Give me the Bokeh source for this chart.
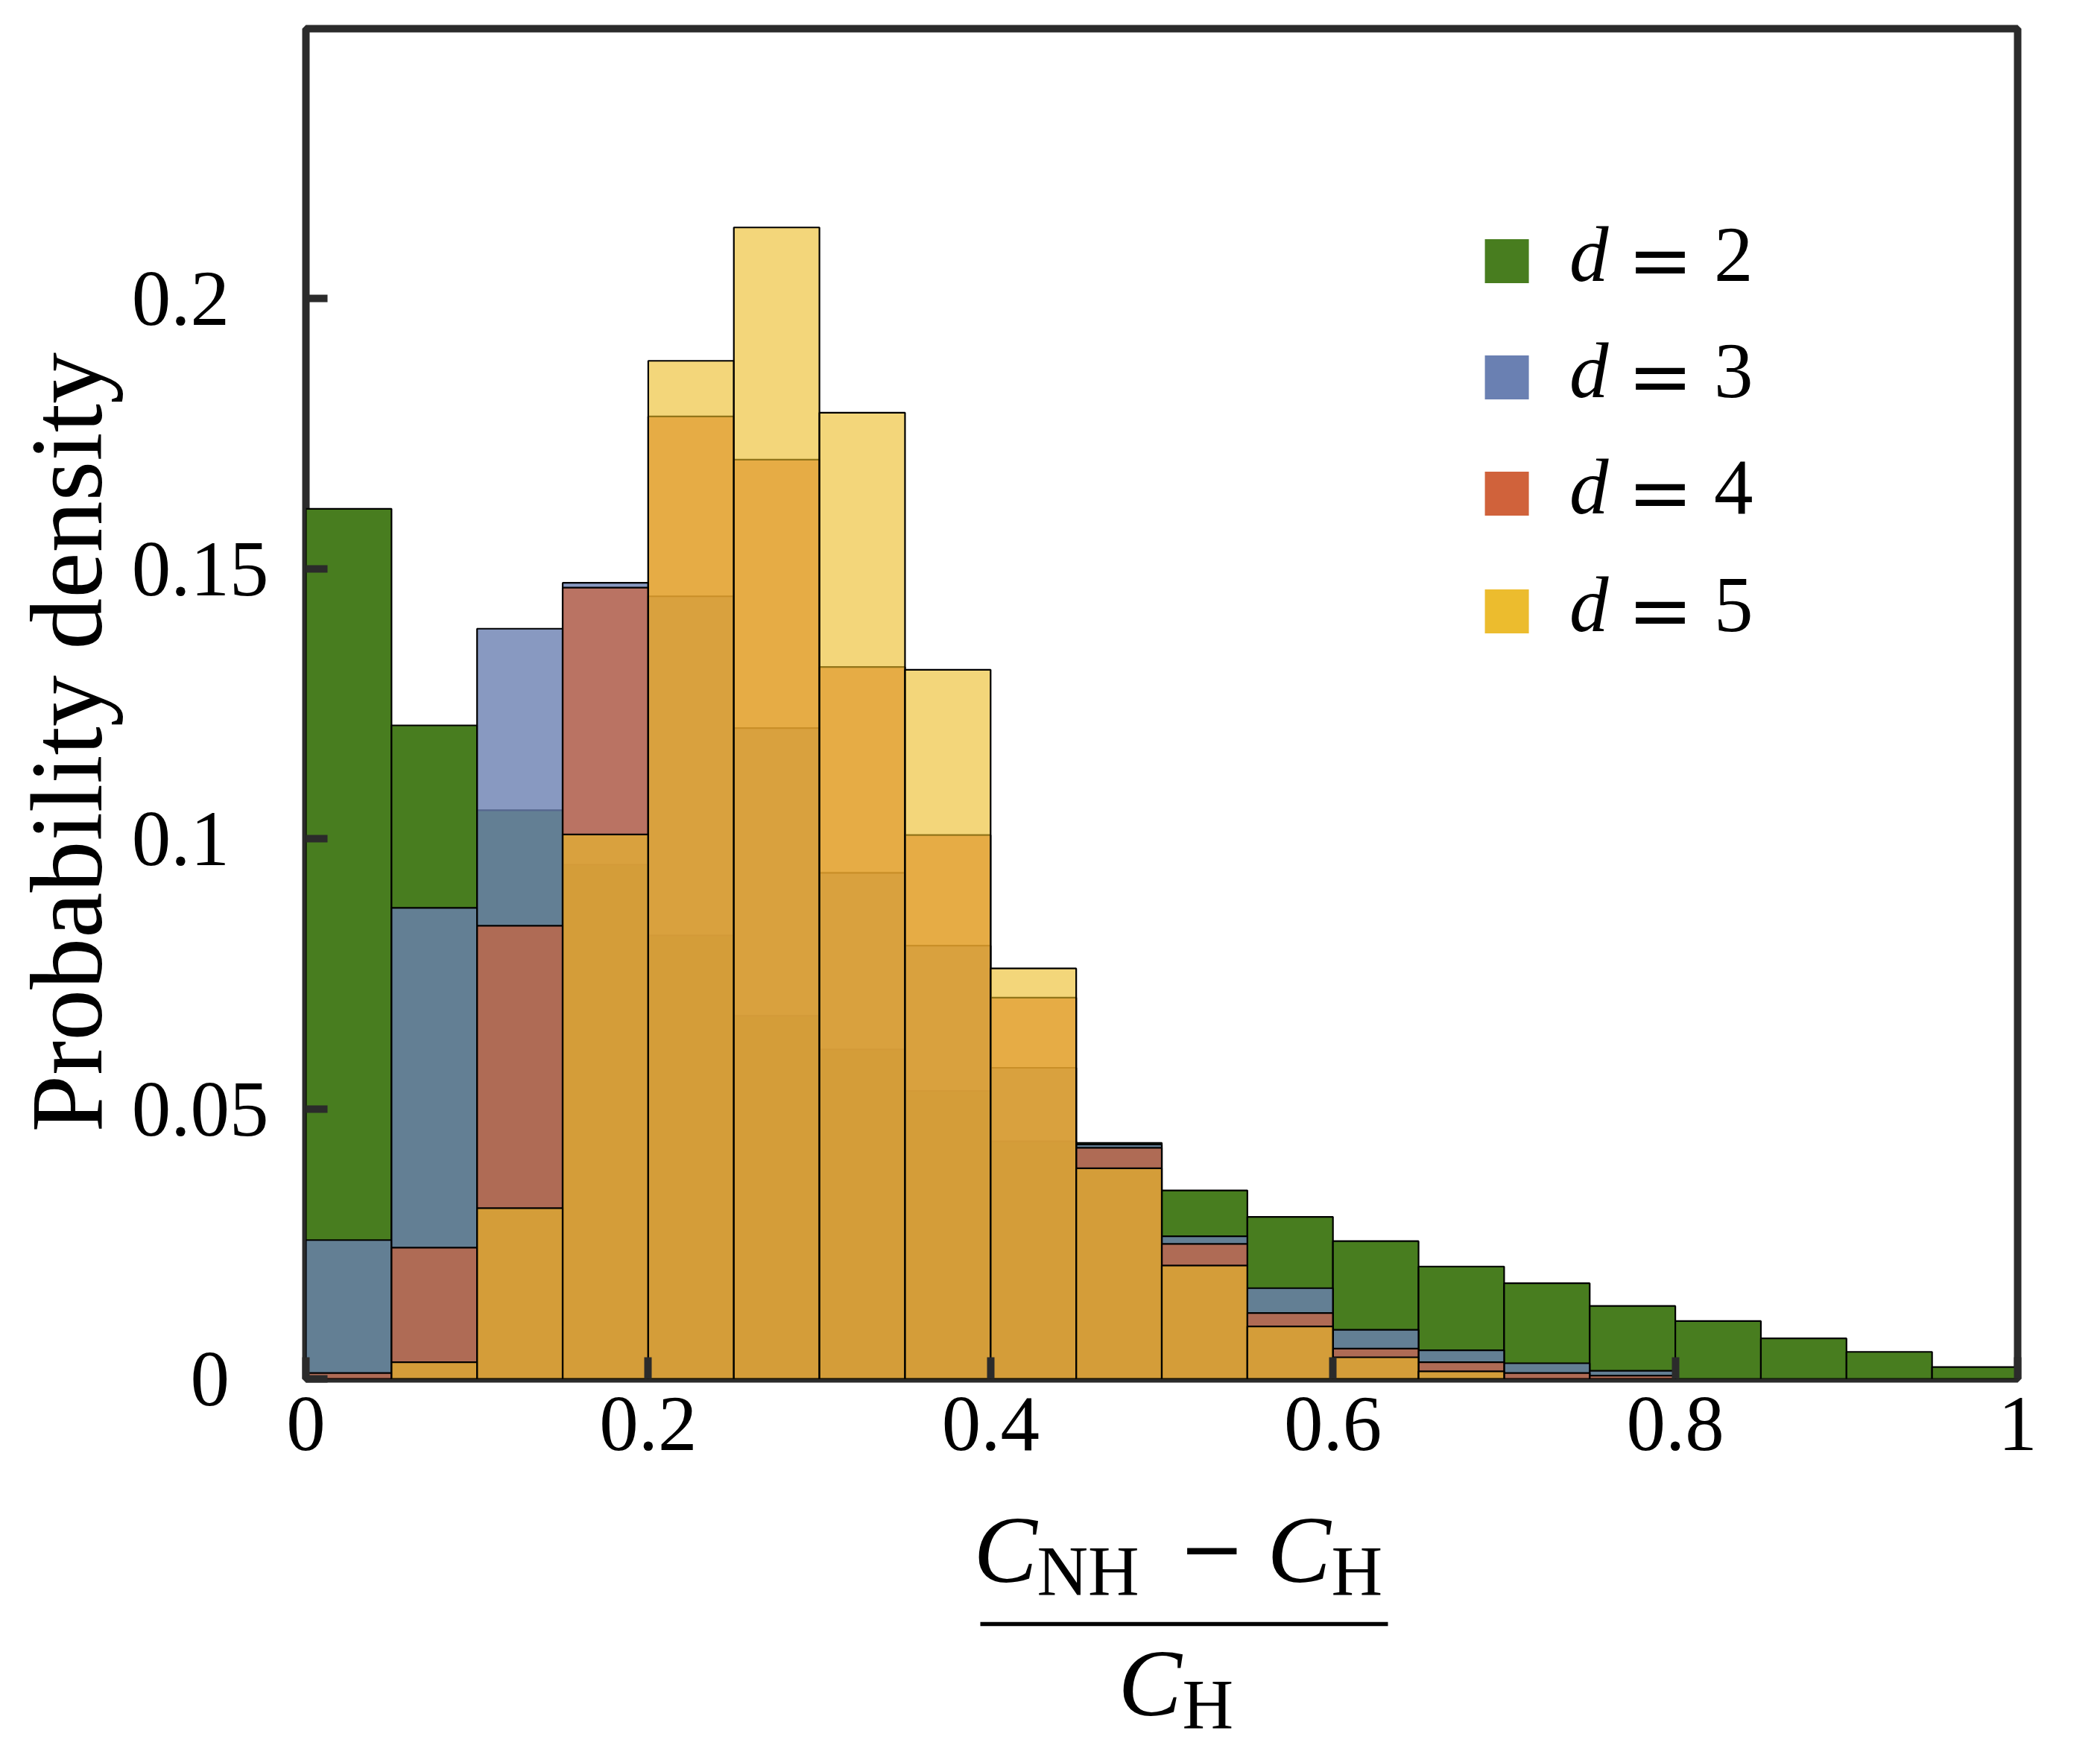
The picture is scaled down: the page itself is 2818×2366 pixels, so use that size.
import numpy as np
from bokeh.plotting import figure
from bokeh.models import ColumnDataSource, FixedTicker, Label, Range1d
from bokeh.layouts import column
from bokeh.core.properties import value
from bokeh.embed import file_html
from bokeh.resources import INLINE

# ---------------- data ----------------
BIN_EDGES = [round(0.05 * i, 2) for i in range(21)]

D2 = [0.1611, 0.1210, 0.1053, 0.0952, 0.0821, 0.0672, 0.0610, 0.0533, 0.0440, 0.0437,
      0.0349, 0.0300, 0.0255, 0.0208, 0.0177, 0.0135, 0.0107, 0.0075, 0.0050, 0.0022]
D3 = [0.0257, 0.0872, 0.1389, 0.1474, 0.1449, 0.1205, 0.0937, 0.0802, 0.0576, 0.0434,
      0.0264, 0.0168, 0.0091, 0.0053, 0.0029, 0.0015, 0.0, 0.0, 0.0, 0.0]
D4 = [0.0011, 0.0243, 0.0839, 0.1465, 0.1782, 0.1702, 0.1318, 0.1007, 0.0706, 0.0428,
      0.0250, 0.0122, 0.0056, 0.0031, 0.0011, 0.0006, 0.0, 0.0, 0.0, 0.0]
D5 = [0.0, 0.0031, 0.0316, 0.1008, 0.1885, 0.2132, 0.1789, 0.1313, 0.0760, 0.0390,
      0.0210, 0.0097, 0.0040, 0.0014, 0.0, 0.0, 0.0, 0.0, 0.0, 0.0]

SERIES = [D2, D3, D4, D5]
SERIES_NAMES = ["2", "3", "4", "5"]

X_TICKS = [0, 0.2, 0.4, 0.6, 0.8, 1]
X_TICK_LABELS = ["0", "0.2", "0.4", "0.6", "0.8", "1"]
Y_TICKS = [0, 0.05, 0.1, 0.15, 0.2]
Y_TICK_LABELS = ["0\u2007", "0.05", "0.1\u2007", "0.15", "0.2\u2007"]

Y_LABEL = "Probability density"

# ---------------- styles ----------------
BAR_COLORS = ["#487d1f", "#6a80b2", "#d0623b", "#ecbd28"]
BAR_ALPHAS = [1.0, 0.8, 0.7, 0.62]
LEGEND_COLORS = ["#487d1f", "#6a80b2", "#d0623b", "#ecbc2e"]
SPINE = "#2b2b2b"
SERIF = "Liberation Serif"
BASE_SHIFT = 0.36  # alphabetic-baseline correction (fraction of font size)

FIG_W = 2800
FIG_H = 2010
FRAME_L, FRAME_W, FRAME_T, FRAME_H = 410, 2297, 38, 1812

p = figure(width=FIG_W, height=FIG_H, x_range=Range1d(0, 1), y_range=Range1d(0, 0.25),
           output_backend="svg", toolbar_location=None,
           min_border_left=FRAME_L, min_border_right=FIG_W - FRAME_L - FRAME_W,
           min_border_top=FRAME_T, min_border_bottom=FIG_H - FRAME_T - FRAME_H)
p.background_fill_color = "white"
p.border_fill_color = "white"
p.xgrid.grid_line_color = None
p.ygrid.grid_line_color = None
p.outline_line_color = SPINE
p.outline_line_width = 10
p.outline_line_alpha = 1.0

left = np.array(BIN_EDGES[:-1])
right = np.array(BIN_EDGES[1:])
for vals, col, alp in zip(SERIES, BAR_COLORS, BAR_ALPHAS):
    v = np.array(vals)
    m = v > 0
    src = ColumnDataSource(dict(left=left[m], right=right[m], top=v[m], bottom=np.zeros(m.sum())))
    p.quad(left="left", right="right", top="top", bottom="bottom", source=src,
           fill_color=col, fill_alpha=alp, line_color="black", line_width=2.2, line_alpha=1.0)

# axes
for ax, ticks, labels in ((p.xaxis, X_TICKS, X_TICK_LABELS), (p.yaxis, Y_TICKS, Y_TICK_LABELS)):
    ax.ticker = FixedTicker(ticks=ticks)
    ax.major_label_overrides = {t: l for t, l in zip(ticks, labels)}
    ax.axis_line_color = None
    ax.major_tick_in = 29
    ax.major_tick_out = 0
    ax.major_tick_line_width = 10
    ax.major_tick_line_color = SPINE
    ax.minor_tick_line_color = None
    ax.major_label_text_font = SERIF
    ax.major_label_text_font_size = "105px"
    ax.major_label_text_color = "black"
p.xaxis.major_label_standoff = 25
p.yaxis.major_label_standoff = 50

# y-axis label (trailing spaces nudge its centre toward the bottom, as in the reference)
p.yaxis.axis_label = Y_LABEL + "\u2007\u2008"
p.yaxis.axis_label_text_font = SERIF
p.yaxis.axis_label_text_font_size = "138px"
p.yaxis.axis_label_text_font_style = "normal"
p.yaxis.axis_label_text_color = "black"
p.yaxis.axis_label_standoff = 8

# legend
LEG_X = 0.7016
LEG_Y = [0.20695, 0.18543, 0.16391, 0.14211]
p.rect(x=[LEG_X] * 4, y=LEG_Y, width=59, height=59, width_units="screen", height_units="screen",
       fill_color=LEGEND_COLORS, line_color=None)
dy = 29 - BASE_SHIFT * 105
p.text(x=[LEG_X] * 4, y=LEG_Y, text=["d"] * 4, x_offset=84, y_offset=dy,
       text_font=value(SERIF), text_font_style="italic", text_font_size="105px",
       text_baseline="alphabetic", text_align="left", text_color="black")
p.text(x=[LEG_X] * 4, y=LEG_Y, text=["="] * 4, x_offset=206, y_offset=dy + 7,
       text_font=value("DejaVu Serif"), text_font_size="105px",
       text_baseline="alphabetic", text_align="center", text_color="black")
p.text(x=[LEG_X] * 4, y=LEG_Y, text=SERIES_NAMES, x_offset=278, y_offset=dy,
       text_font=value(SERIF), text_font_size="105px",
       text_baseline="alphabetic", text_align="left", text_color="black")

# x-axis label (fraction) in a strip below; its frame is aligned with the main frame
P2_H = 350
p2 = figure(width=FIG_W, height=P2_H, x_range=Range1d(0, 1), y_range=Range1d(FIG_H + P2_H, FIG_H),
            output_backend="svg", toolbar_location=None, min_border=0,
            x_axis_location=None, y_axis_location=None)
p2.grid.visible = False
p2.outline_line_color = None
p2.background_fill_color = "white"
p2.border_fill_color = "white"


def fx(px):
    return (px - FRAME_L) / FRAME_W


XLABEL_PARTS = [
    ("C", "italic", 128, SERIF, 1306, 2126, "left"),
    ("NH", "normal", 95, SERIF, 1391, 2143, "left"),
    ("\u2212", "normal", 106, "DejaVu Serif", 1626, 2114, "center"),
    ("C", "italic", 128, SERIF, 1700, 2126, "left"),
    ("H", "normal", 95, SERIF, 1786, 2143, "left"),
    ("C", "italic", 128, SERIF, 1500, 2305, "left"),
    ("H", "normal", 95, SERIF, 1586, 2322, "left"),
]
for txt, style, size, font, xx, yy, al in XLABEL_PARTS:
    p2.add_layout(Label(x=fx(xx), y=yy - BASE_SHIFT * size, text=txt, text_font=font,
                        text_font_style=style, text_font_size=f"{size}px", text_align=al,
                        text_baseline="alphabetic", text_color="black"))
p2.segment(x0=[fx(1315)], y0=[2179], x1=[fx(1862)], y1=[2179], line_width=5.5, line_color="black")

layout = column(p, p2, spacing=0)
with open("out.html", "w") as f:
    f.write(file_html(layout, INLINE))
